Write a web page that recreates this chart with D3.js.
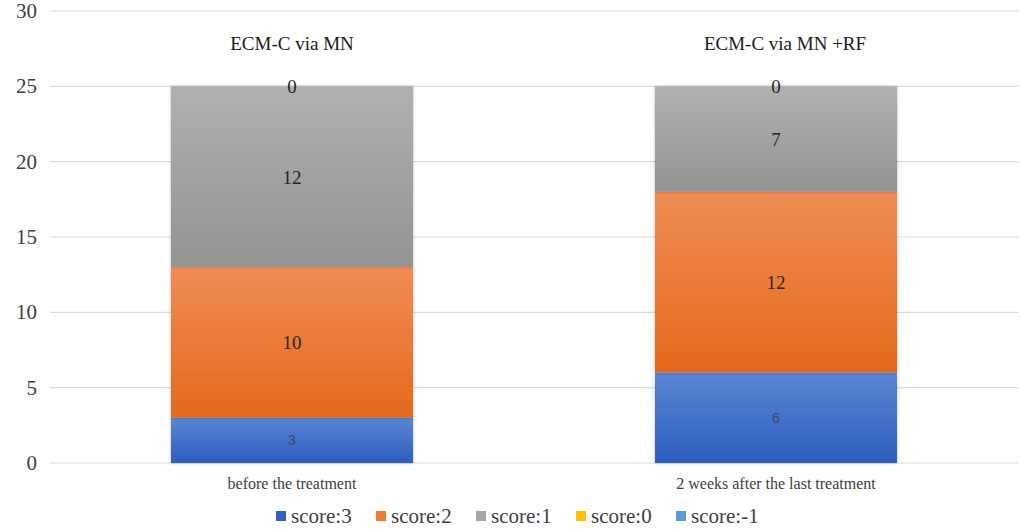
<!DOCTYPE html>
<html>
<head>
<meta charset="utf-8">
<script src="https://d3js.org/d3.v7.min.js"></script>
<style>
body { margin: 0; background: #fff; }
svg { display: block; }
</style>
</head>
<body>
<div id="chart"></div>
<script>
  // data
  var categories = ["before the treatment", "2 weeks after the last treatment"];
  var titles = ["ECM-C via MN", "ECM-C via MN +RF"];
  var seriesNames = ["score:3", "score:2", "score:1", "score:0", "score:-1"];
  var score3 = [3, 6];
  var score2 = [10, 12];
  var score1 = [12, 7];
  var score0 = [0, 0];
  var scoreM1 = [0, 0];
  var yTicks = [0, 5, 10, 15, 20, 25, 30];

  var seriesValues = [score3, score2, score1, score0, scoreM1];
  var legendColors = ["#3461c1", "#ed7d31", "#a5a5a5", "#ffc000", "#5b9bd5"];
  var gradTop = ["#5b85d2", "#f08c55", "#b0b0b0", "#ffd04d", "#7db0e0"];
  var gradBottom = ["#2d5ebf", "#e3691a", "#939393", "#f0b400", "#4a8ac8"];

  var SERIF = "'Times New Roman', 'Liberation Serif', Tinos, serif";
  var SANS = "'Liberation Sans', Arial, sans-serif";

  var width = 1021, height = 530;
  var margin = {left: 50, right: 3, top: 11, bottom: 67};

  var svg = d3.select("#chart").append("svg")
    .attr("width", width)
    .attr("height", height)
    .style("font-family", SERIF);

  var defs = svg.append("defs");
  seriesNames.forEach(function(s, i) {
    var g = defs.append("linearGradient")
      .attr("id", "grad" + i)
      .attr("x1", 0).attr("y1", 0).attr("x2", 0).attr("y2", 1);
    g.append("stop").attr("offset", "0%").attr("stop-color", gradTop[i]);
    g.append("stop").attr("offset", "100%").attr("stop-color", gradBottom[i]);
  });
  var shadow = defs.append("filter").attr("id", "shadow")
    .attr("x", "-5%").attr("y", "-5%").attr("width", "110%").attr("height", "110%");
  shadow.append("feDropShadow").attr("dx", 0).attr("dy", 0).attr("stdDeviation", 1.5)
    .attr("flood-color", "#000").attr("flood-opacity", 0.3);

  var x = d3.scaleBand()
    .domain(categories)
    .range([margin.left, width - margin.right])
    .paddingInner(0.5)
    .paddingOuter(0.25);

  var y = d3.scaleLinear()
    .domain([0, 30])
    .range([height - margin.bottom, margin.top]);

  // gridlines
  svg.append("g").selectAll("line")
    .data(yTicks).enter().append("line")
    .attr("x1", margin.left)
    .attr("x2", width - margin.right)
    .attr("y1", function(d) { return y(d); })
    .attr("y2", function(d) { return y(d); })
    .attr("stroke", "#d9d9d9")
    .attr("stroke-width", 1.2);

  // bars
  var rows = categories.map(function(c, j) {
    var r = {cat: c};
    seriesNames.forEach(function(s, i) { r[s] = seriesValues[i][j]; });
    return r;
  });
  var stack = d3.stack().keys(seriesNames)(rows);

  var layers = svg.append("g").selectAll("g")
    .data(stack).enter().append("g")
    .attr("fill", function(d, i) { return "url(#grad" + i + ")"; });

  layers.selectAll("rect")
    .data(function(d) { return d; })
    .enter().append("rect")
    .filter(function(d) { return d[1] - d[0] > 0; })
    .attr("x", function(d) { return x(d.data.cat); })
    .attr("width", x.bandwidth())
    .attr("y", function(d) { return y(d[1]); })
    .attr("height", function(d) { return y(d[0]) - y(d[1]); })
    .attr("filter", "url(#shadow)");

  // all texts go straight onto the svg, one by one
  function label(txt, px, py, size, anchor, fill, family) {
    svg.append("text")
      .attr("x", px)
      .attr("y", py)
      .attr("text-anchor", anchor)
      .attr("fill", fill)
      .style("font-family", family || SERIF)
      .style("font-size", size + "px")
      .text(txt);
  }

  // y axis labels
  yTicks.forEach(function(t) {
    label(String(t), 37, y(t) + 7, 21, "end", "#404040");
  });

  // value labels (score:-1 sits under score:0's label)
  stack.forEach(function(layer, i) {
    if (i === 4) return;
    layer.forEach(function(d) {
      label(String(d[1] - d[0]),
        x(d.data.cat) + x.bandwidth() / 2,
        (y(d[0]) + y(d[1])) / 2 + (i === 0 ? 5 : 7),
        i === 0 ? 14 : 19, "middle",
        i === 0 ? "#3b4a66" : "#262626",
        i === 0 ? SANS : SERIF);
    });
  });

  // titles above bars
  titles.forEach(function(t, i) {
    label(t, x(categories[i]) + x.bandwidth() / 2 + (i === 1 ? 9 : 0), 50, 19, "middle", "#1a1a1a");
  });

  // category labels
  categories.forEach(function(c) {
    label(c, x(c) + x.bandwidth() / 2, 489, 16, "middle", "#404040");
  });

  // legend
  seriesNames.forEach(function(s, i) {
    var lx = 276 + i * 100;
    svg.append("rect")
      .attr("x", lx).attr("y", 511)
      .attr("width", 10).attr("height", 10)
      .attr("fill", legendColors[i]);
    label(s, lx + 15, 523, 21, "start", "#404040");
  });
</script>
</body>
</html>
